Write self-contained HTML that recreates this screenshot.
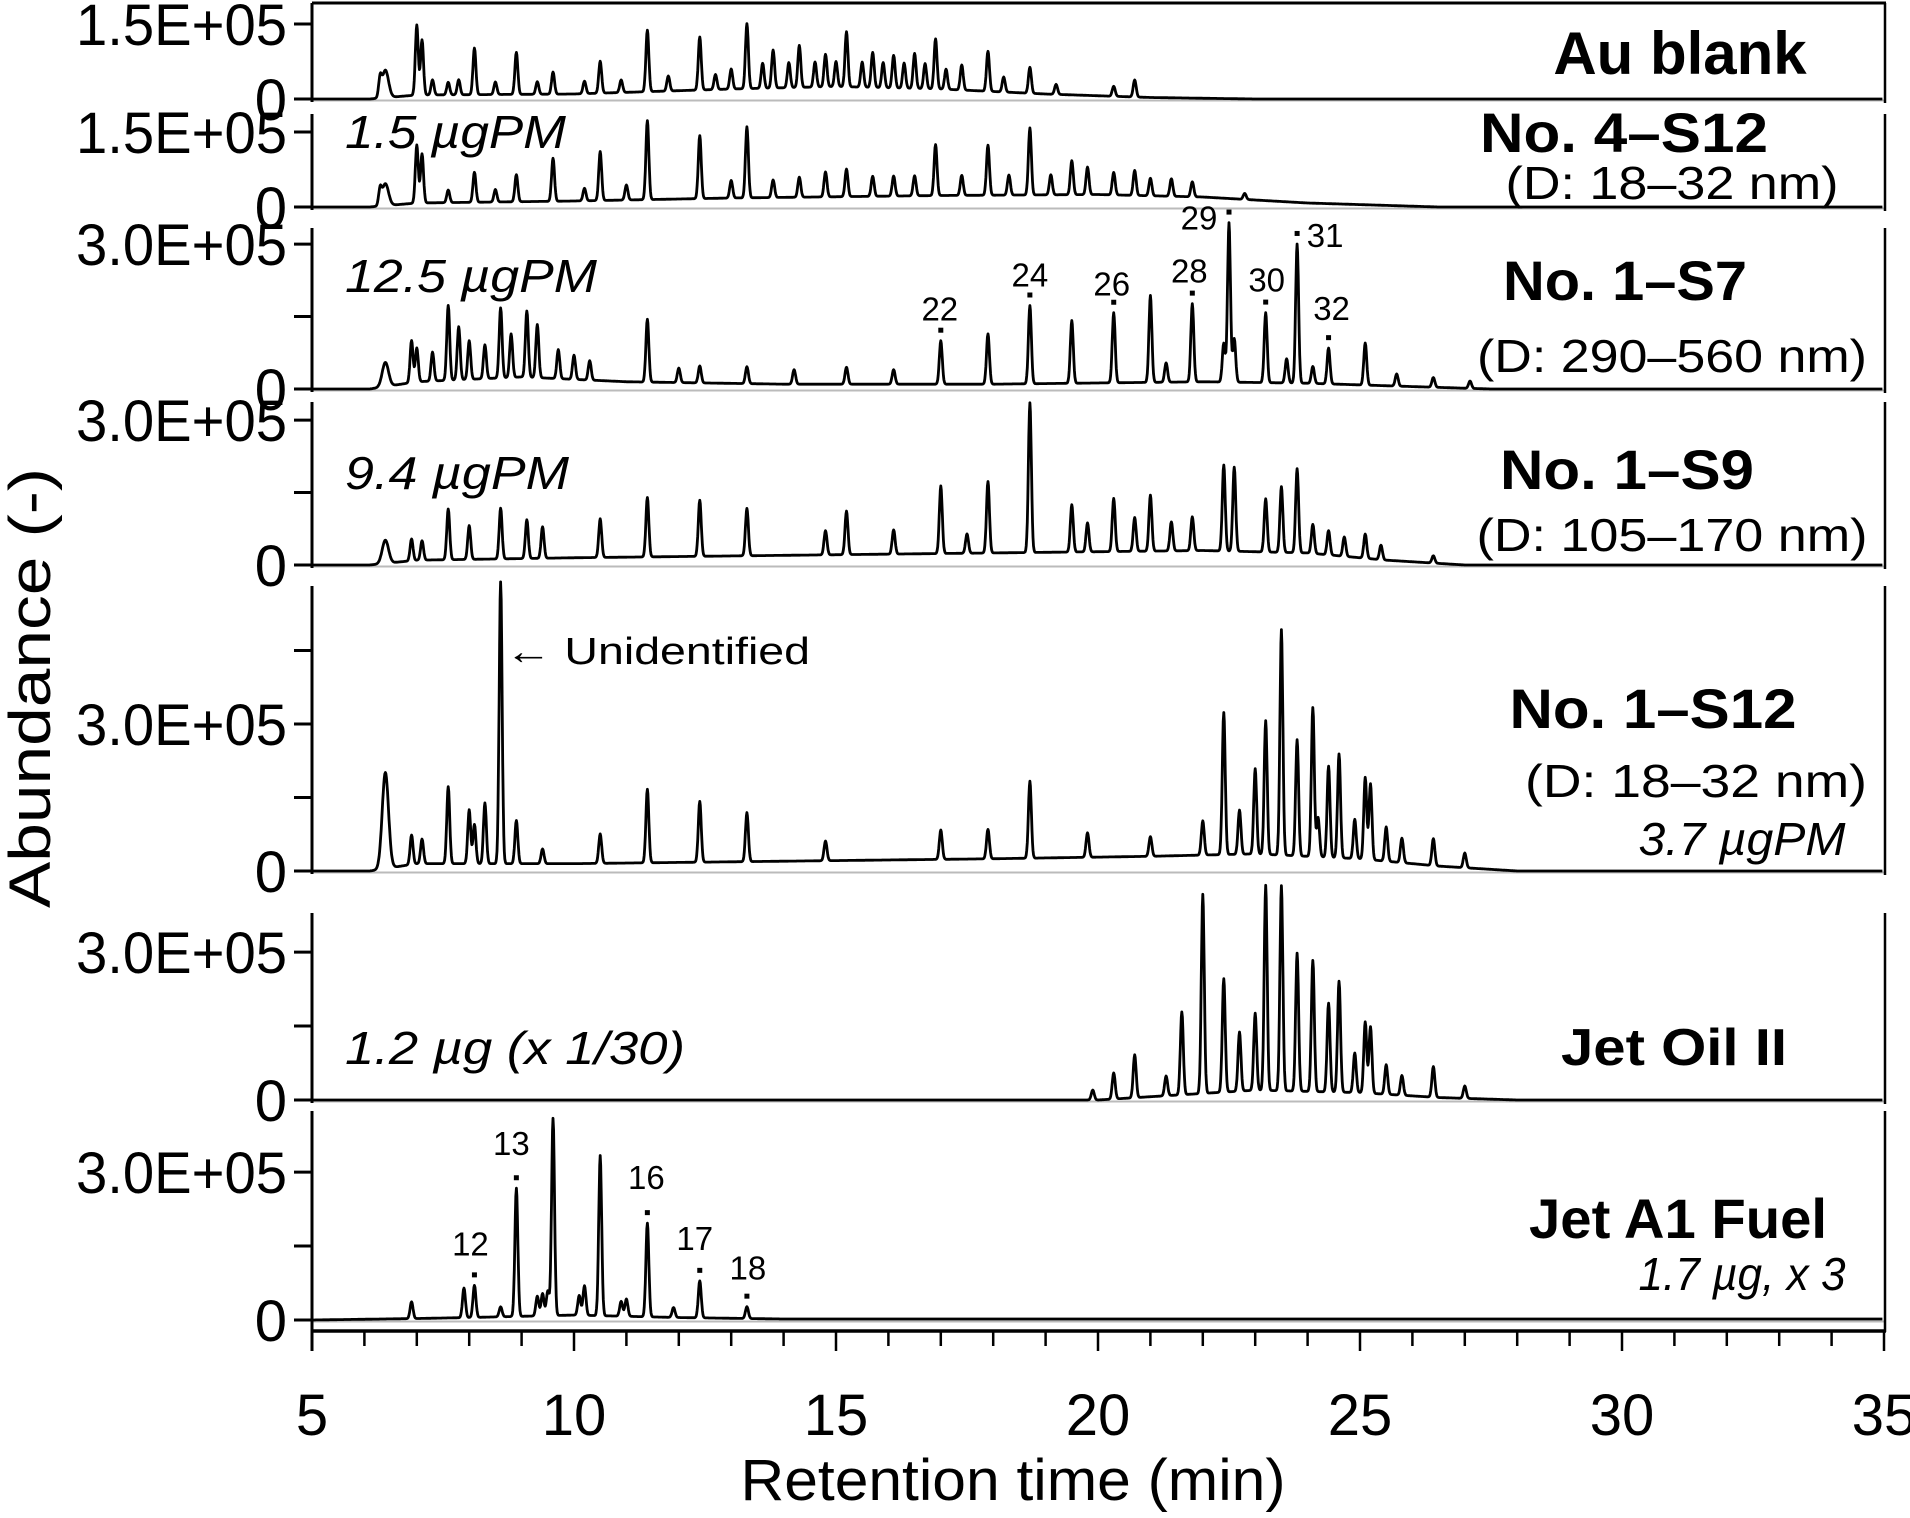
<!DOCTYPE html>
<html><head><meta charset="utf-8">
<style>
html,body{margin:0;padding:0;background:#fff;}
svg{display:block;font-family:"Liberation Sans",sans-serif;}
</style></head>
<body>
<svg id="chart" width="1910" height="1518" viewBox="0 0 1910 1518" xmlns="http://www.w3.org/2000/svg">
<g id="grid"></g>
<g id="traces"></g>
<g id="labels"></g>
</svg>
<script>
// ---- data (retention time in min, abundance in units of 1e4) ----
const xTicks = [5,10,15,20,25,30,35];
const panelNames = ["au-blank","no4-s12","no1-s7","no1-s9","no1-s12","jet-oil-ii","jet-a1-fuel"];
const panelTitles = ["Au blank","No. 4–S12","No. 1–S7","No. 1–S9","No. 1–S12","Jet Oil II","Jet A1 Fuel"];
const p1Times = [6.3,6.4,7.0,7.1,7.3,7.6,7.8,8.1,8.5,8.9,9.3,9.6,10.2,10.5,10.9,11.4,11.8,12.4,12.7,13.0,13.3,13.6,13.8,14.1,14.3,14.6,14.8,15.0,15.2,15.5,15.7,15.9,16.1,16.3,16.5,16.7,16.9,17.1,17.4,17.9,18.2,18.7,19.2,20.3,20.7];
const p1Vals  = [3.5,5.5,14,11,3,2.5,3,9.3,2.5,8.4,2.5,4.4,2.5,6.4,2.5,12.3,3,10.6,3,4,13,5,7.6,5,8.4,5,6.5,5,11,5,7,5,6.5,5,7,5,10,4,5,8,3,5.2,2,2,3.4];
const p1Hump  = [[5,0],[6.1,0],[7,0.8],[10,1],[13,2],[15,2.5],[17,2],[19,1],[21,0.3],[23,0],[35,0]];
const p2Times = [6.3,6.4,7.0,7.1,7.6,8.1,8.5,8.9,9.6,10.2,10.5,11.0,11.4,12.4,13.0,13.3,13.8,14.3,14.8,15.2,15.7,16.1,16.5,16.9,17.4,17.9,18.3,18.7,19.1,19.5,19.8,20.3,20.7,21.0,21.4,21.8,22.8];
const p2Vals  = [3,4.4,11.6,9.8,2.5,6,2.5,5.4,8.6,2.5,9.8,3,15.8,12.6,3.5,14.2,3.5,4,5,5.5,4,4,4,10.2,4,10,4,13.4,4,6.8,5.5,4.5,5,3.5,3.5,3,1.2];
const p2Hump  = [[5,0],[6.1,0],[7,0.8],[10,1.2],[13,1.8],[17,2.3],[20,2.5],[22,2],[24,0.8],[26.5,0],[35,0]];
const p3Times = [6.4,6.9,7.0,7.3,7.6,7.8,8.0,8.3,8.6,8.8,9.1,9.3,9.7,10.0,10.3,11.4,12.0,12.4,13.3,14.2,15.2,16.1,17.0,17.9,18.7,19.5,20.3,21.0,21.3,21.8,22.4,22.5,22.6,23.2,23.6,23.8,24.1,24.4,25.1,25.7,26.4,27.1];
const p3Vals  = [5,8.7,7,6,15.5,11,8,7,14.5,9,13.7,11,6,5,4,13,3,3.5,3.5,3,3.5,3,9,10.4,16.2,13,14.5,18,4,16.2,8,33,9,14.5,5,28.8,3.5,7.4,8.7,2.5,2,1.5];
const p3Hump  = [[5,0],[6.1,0],[7,1.5],[9,2.5],[11,1.5],[14,1],[18,1],[22,1.5],[24,1.2],[26,0.5],[27.5,0],[35,0]];
const p4Times = [6.4,6.9,7.1,7.6,8.0,8.6,9.1,9.4,10.5,11.4,12.4,13.3,14.8,15.2,16.1,17.0,17.5,17.9,18.7,19.5,19.8,20.3,20.7,21.0,21.4,21.8,22.4,22.6,23.2,23.5,23.8,24.1,24.4,24.7,25.1,25.4,26.4];
const p4Vals  = [4.8,4.5,4,10.5,7,10.5,8,6.5,8,12.3,11.6,9.8,5,9,5,14,4,14.8,31,9.8,6,11,7,11.6,6,7,17.8,17.4,11,13.6,17.4,6,5,4,5,3,1.5];
const p4Hump  = [[5,0],[6.1,0],[7,1],[10,1.5],[14,2],[18,2.5],[22,3],[24,2.5],[25.5,1],[27,0],[35,0]];
const p5Times = [6.4,6.9,7.1,7.6,8.0,8.1,8.3,8.6,8.9,9.4,10.5,11.4,12.4,13.3,14.8,17.0,17.9,18.7,19.8,21.0,22.0,22.4,22.7,23.0,23.2,23.5,23.8,24.1,24.2,24.4,24.6,24.9,25.1,25.2,25.5,25.8,26.4,27.0];
const p5Vals  = [19.6,6,5,15.7,11,8,12.4,57.5,8.8,3,6,15,12.4,10,4,6,6,15.7,5,4,7,29,9,17.4,27.3,46,23.7,30.4,8,18.6,21.2,8,16.7,15.5,7,5,5.5,3];
const p5Hump  = [[5,0],[6.1,0],[7,1.5],[10,1.5],[14,2],[18,2.5],[21,3],[23,3.5],[25,2.5],[26.5,1],[28,0],[35,0]];
const p6Times = [19.9,20.3,20.7,21.3,21.6,22.0,22.4,22.7,23.0,23.2,23.5,23.8,24.1,24.4,24.6,24.9,25.1,25.2,25.5,25.8,26.4,27.0];
const p6Vals  = [2,5.3,8.7,4,16.8,40.4,23,12,15.6,41.6,41.6,28,26.6,18,22.5,8,14.4,13.5,6,4,6.2,2.5];
const p6Hump  = [[5,0],[20,0],[21.5,1],[23,2],[25,1.5],[26.5,0.5],[28,0],[35,0]];
const p7Times = [6.9,7.9,8.1,8.6,8.9,9.3,9.4,9.5,9.6,10.1,10.2,10.5,10.9,11.0,11.4,11.9,12.4,13.3];
const p7Vals  = [3.4,6,6.5,2,26,4,4.5,5,40,4,6,32.5,3,3.5,19,2,7.5,2.4];
const p7Hump  = [[5,0],[7,0.3],[8,0.5],[10,1],[12,0.5],[14,0.2],[35,0.2]];
const s7Labels = ["22","24","26","28","29","30","31","32"];
const s7LabelTimes = [17.0,18.7,20.3,21.8,22.5,23.2,23.8,24.4];
const fuelLabels = ["12","13","16","17","18"];
const fuelLabelTimes = [8.1,8.9,11.4,12.4,13.3];

const NS = "http://www.w3.org/2000/svg";
const X0 = 312, PX_PER_MIN = (1884-312)/30;
function xs(t){ return X0 + (t-5)*PX_PER_MIN; }
const panels = [
 {top:3, zero:99, k:5.0, ticks:[0,15], lab:["0","1.5E+05"], times:p1Times, vals:p1Vals, hump:p1Hump, box:true},
 {top:114, zero:207, k:5.0, ticks:[0,15], lab:["0","1.5E+05"], times:p2Times, vals:p2Vals, hump:p2Hump},
 {top:228, zero:389, k:4.83, ticks:[0,15,30], lab:["0","","3.0E+05"], times:p3Times, vals:p3Vals, hump:p3Hump},
 {top:402, zero:565, k:4.83, ticks:[0,15,30], lab:["0","","3.0E+05"], times:p4Times, vals:p4Vals, hump:p4Hump},
 {top:586, zero:871, k:4.9, ticks:[0,15,30,45], lab:["0","","3.0E+05",""], times:p5Times, vals:p5Vals, hump:p5Hump},
 {top:913, zero:1100, k:4.93, ticks:[0,15,30], lab:["0","","3.0E+05"], times:p6Times, vals:p6Vals, hump:p6Hump},
 {top:1111, zero:1320, k:4.93, ticks:[0,15,30], lab:["0","","3.0E+05"], times:p7Times, vals:p7Vals, hump:p7Hump}
];
const grid = document.getElementById('grid');
const traces = document.getElementById('traces');
const labels = document.getElementById('labels');
function mk(tag, attrs, parent){
  const e = document.createElementNS(NS, tag);
  for (const a in attrs) e.setAttribute(a, attrs[a]);
  parent.appendChild(e); return e;
}
function humpAt(h, t){
  for (let i=0;i<h.length-1;i++){
    if (t>=h[i][0] && t<=h[i+1][0]){
      const f=(t-h[i][0])/(h[i+1][0]-h[i][0]); return h[i][1]+f*(h[i+1][1]-h[i][1]);
    }
  }
  return 0;
}
function signal(p, t){
  let v = humpAt(p.hump, t);
  for (let i=0;i<p.times.length;i++){
    const sg = (p.times[i]<6.6 && p.vals[i]>4) ? 0.06 : 0.028;
    const d = (t-p.times[i])/sg;
    if (Math.abs(d)<6) v += p.vals[i]*Math.exp(-0.5*d*d);
  }
  return v;
}
function ySig(p, v){ return p.zero - v*p.k; }

panels.forEach((p, idx) => {
  const g = mk('g', {}, traces);
  
  
  const zl = mk('line', {x1:X0, x2:1884, y1:p.zero+1.5, y2:p.zero+1.5, stroke:'#bbb', 'stroke-width':2}, g);
  
  
  const bottom = idx===6 ? 1351 : p.zero+3;
  const ax = mk('line', {x1:X0, x2:X0, y1:p.top, y2:bottom, stroke:'#000', 'stroke-width':3}, g);
  
  
  const rb = mk('line', {x1:1885, x2:1885, y1:p.top, y2:idx===6?1332:p.zero+4, stroke:'#000', 'stroke-width':2.5}, g);
  
  
  if (p.box){
    const tb = mk('line', {x1:X0, x2:1886, y1:p.top, y2:p.top, stroke:'#000', 'stroke-width':3}, g);
    
    
  }
  p.ticks.forEach((tv, i) => {
    const y = ySig(p, tv);
    const tk = mk('line', {x1:X0-18, x2:X0, y1:y, y2:y, stroke:'#000', 'stroke-width':3}, g);
    
    
    if (p.lab[i]){
      const tx = mk('text', {x:287, y:y+21, 'font-size':58, 'text-anchor':'end'}, g);
      if (p.lab[i].length>1){ tx.setAttribute('textLength', 211); tx.setAttribute('lengthAdjust','spacingAndGlyphs'); }
      tx.textContent = p.lab[i];
      
      
    }
  });
  let d = '';
  for (let t=5.02; t<=34.98; t+=0.01){
    const x = xs(t), y = ySig(p, signal(p,t));
    d += (d?'L':'M') + x.toFixed(1) + ' ' + y.toFixed(1);
  }
  const path = mk('path', {d:d, fill:'none', stroke:'#000', 'stroke-width':2.8, 'stroke-linejoin':'round'}, g);
  
  
});

function peakLabels(p, names, times, pref, offsets){
  names.forEach((n, i) => {
    const t = times[i];
    const y = ySig(p, signal(p, t));
    const dot = mk('rect', {x:xs(t)-2.5, y:y-13, width:5, height:5, fill:'#000'}, labels);
    
    
    const o = offsets[i];
    const tx = mk('text', {x:xs(t)+o[0], y:y+o[1], 'font-size':33, 'text-anchor':'middle'}, labels);
    tx.textContent = n;
    
    
  });
}
peakLabels(panels[2], s7Labels, s7LabelTimes, 'no1-s7', [[-1,-20],[0,-19],[-2,-17],[-3,-21],[-30,7],[1,-21],[28,3],[3,-28]]);
peakLabels(panels[6], fuelLabels, fuelLabelTimes, 'jet-a1', [[-4,-30],[-5,-33],[-1,-34],[-5,-31],[1,-27]]);

const xa = mk('line', {x1:X0, x2:1886, y1:1331, y2:1331, stroke:'#000', 'stroke-width':3.5}, grid);


for (let m=6; m<=35; m++){
  const major = (m%5===0);
  const tk = mk('line', {x1:xs(m), x2:xs(m), y1:1331, y2:major?1351:1346, stroke:'#000', 'stroke-width':2.5}, grid);
  
  
}
xTicks.forEach(v => {
  const tx = mk('text', {x:xs(v), y:1435, 'font-size':58, 'text-anchor':'middle'}, grid);
  tx.textContent = v;
  
  
});

const annText = [
 ["Au blank",1680,74,true,false,60,"middle",0],
 ["No. 4–S12",1624,152,true,false,56,"middle",288],
 ["(D: 18–32 nm)",1672,199,false,false,46,"middle",333],
 ["No. 1–S7",1625,300,true,false,56,"middle",244],
 ["(D: 290–560 nm)",1672,372,false,false,46,"middle",390],
 ["No. 1–S9",1627,489,true,false,56,"middle",254],
 ["(D: 105–170 nm)",1672,551,false,false,46,"middle",391],
 ["No. 1–S12",1653,728,true,false,56,"middle",287],
 ["(D: 18–32 nm)",1696,797,false,false,46,"middle",342],
 ["3.7 µgPM",1742,855,false,true,46,"middle",207],
 ["Jet Oil II",1674,1065,true,false,52,"middle",226],
 ["Jet A1 Fuel",1678,1238,true,false,56,"middle",298],
 ["1.7 µg, x 3",1742,1290,false,true,46,"middle",207],
 ["1.5 µgPM",345,148,false,true,46,"start",221],
 ["12.5 µgPM",345,292,false,true,46,"start",252],
 ["9.4 µgPM",345,489,false,true,46,"start",224],
 ["1.2 µg (x 1/30)",345,1064,false,true,46,"start",340],
 ["← Unidentified",505,664,false,false,38,"start",305]
];
const annNames = ["au-blank-title","no4-s12-title","no4-s12-size","no1-s7-title","no1-s7-size","no1-s9-title","no1-s9-size","no1-s12-title","no1-s12-size","no1-s12-mass","jet-oil-title","jet-a1-title","jet-a1-mass","no4-s12-mass","no1-s7-mass","no1-s9-mass","jet-oil-mass","unidentified-annotation"];
annText.forEach((a, i) => {
  const tx = mk('text', {x:a[1], y:a[2], 'font-size':a[5], 'text-anchor':a[6]}, labels);
  if (a[3]) tx.setAttribute('font-weight','bold');
  if (a[4]) tx.setAttribute('font-style','italic');
  if (a[7]) { tx.setAttribute('textLength', a[7]); tx.setAttribute('lengthAdjust','spacingAndGlyphs'); }
  tx.textContent = a[0];
  
  
});
const yt = mk('text', {x:0, y:0, 'font-size':58, 'text-anchor':'middle', transform:'translate(50,688) rotate(-90)', textLength:440, lengthAdjust:'spacingAndGlyphs'}, labels);
yt.textContent = 'Abundance (-)';


const xt = mk('text', {x:1013, y:1500, 'font-size':58, 'text-anchor':'middle', textLength:545, lengthAdjust:'spacingAndGlyphs'}, labels);
xt.textContent = 'Retention time (min)';


</script>
</body></html>
